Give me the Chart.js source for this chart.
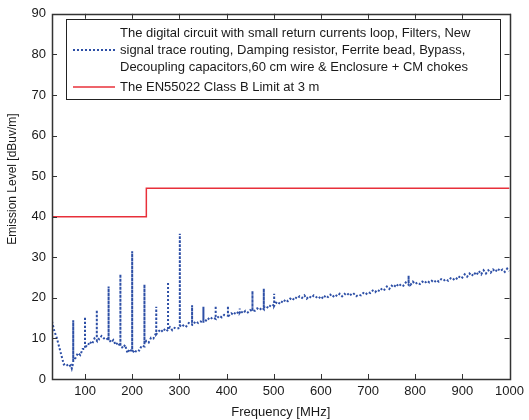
<!DOCTYPE html>
<html>
<head>
<meta charset="utf-8">
<script src="https://cdn.jsdelivr.net/npm/chart.js@4.4.1/dist/chart.umd.min.js"></script>
<style>
  html, body { margin: 0; padding: 0; background: #fff; }
  #wrap { width: 529px; height: 420px; }
</style>
</head>
<body>
<div id="wrap"><canvas id="emi"></canvas></div>
<script>
  // values (MHz, dBuV/m); spikes are three points at one frequency
  const freqMHz = [30, 35, 40, 45, 50, 55, 60, 65, 70, 72,
    75, 75, 75, 80, 85, 90, 95,
    100, 100, 100, 105, 110, 115, 120,
    125, 125, 125, 130, 135, 140, 145,
    150, 150, 150, 155, 160, 165, 170,
    175, 175, 175, 180, 185, 190, 195,
    200, 200, 200, 205, 210, 215, 220,
    226, 226, 226, 230, 235, 240, 245,
    251, 251, 251, 255, 260, 265, 270,
    276, 276, 276, 280, 285, 290, 295,
    301, 301, 301, 305, 310, 315, 320,
    327, 327, 327, 330, 335, 340, 345,
    351, 351, 351, 355, 360, 365, 370,
    377, 377, 377, 380, 385, 390, 395,
    403, 403, 403, 405, 410, 415, 420,
    428, 428, 428, 430, 435, 440, 445, 450,
    455, 455, 455, 460, 465, 470, 475,
    479, 479, 479, 485, 490, 495,
    501, 501, 501, 505, 510, 515, 520, 525, 530, 535, 540, 545,
    550, 555, 560, 565, 570, 575, 580, 585, 590, 595,
    600, 605, 610, 615, 620, 625, 630, 635, 640, 645,
    650, 655, 660, 665, 670, 675, 680, 685, 690, 695,
    700, 705, 710, 715, 720, 725, 730, 735, 740, 745,
    750, 755, 760, 765, 770, 775, 780,
    786, 786, 786, 790, 795,
    800, 805, 810, 815, 820, 825, 830, 835, 840, 845,
    850, 855, 860, 865, 870, 875, 880, 885, 890, 895,
    900, 905, 910, 915, 920, 925, 930, 935, 940, 945,
    950, 955, 960, 965, 970, 975, 980, 985, 990, 995, 1000];
  const emissionLevel = [14.2, 11.8, 10.2, 8.0, 5.8, 3.6, 3.8, 3.0, 3.4, 2.6,
    4.0, 14.5, 4.6, 5.2, 6.4, 5.9, 7.4,
    7.4, 15.3, 8.2, 8.0, 9.2, 8.6, 10.0,
    9.4, 17.0, 10.4, 9.8, 10.6, 10.0, 10.2,
    9.4, 22.8, 10.0, 9.0, 9.6, 8.4, 9.0,
    8.0, 25.8, 8.6, 7.6, 8.4, 6.4, 7.4,
    6.6, 31.5, 7.2, 6.4, 7.2, 7.0, 8.2,
    8.0, 23.3, 8.8, 9.4, 9.0, 10.2, 10.0,
    11.4, 17.8, 11.0, 11.6, 12.2, 11.6, 12.4,
    11.8, 23.9, 12.2, 12.8, 12.0, 12.6, 12.4,
    12.6, 35.8, 13.2, 12.8, 13.4, 13.0, 13.8,
    13.4, 18.2, 14.0, 13.6, 14.2, 13.8, 14.2,
    13.8, 17.8, 14.4, 14.2, 15.0, 14.6, 15.2,
    14.8, 18.0, 15.4, 15.0, 15.6, 15.2, 15.8,
    15.6, 18.0, 16.0, 15.6, 16.2, 15.8, 16.6,
    16.0, 17.4, 16.4, 16.8, 16.2, 16.8, 16.4, 17.0,
    16.6, 21.7, 17.0, 16.8, 17.4, 17.0, 17.6,
    17.2, 22.3, 17.8, 17.4, 18.2, 17.8,
    18.4, 21.0, 18.0, 18.8, 18.4, 19.2, 18.8, 19.6, 19.2, 19.8, 19.4, 20.2,
    19.8, 20.4, 20.0, 20.6, 19.8, 20.4, 20.0, 20.6, 20.2, 19.8,
    20.4, 19.8, 20.6, 20.2, 20.8, 20.2, 20.8, 20.4, 21.0, 20.4,
    21.0, 20.6, 21.2, 20.6, 21.0, 20.4, 20.8, 20.6, 21.2, 20.8,
    21.4, 21.2, 21.8, 21.4, 22.0, 21.6, 22.4, 22.0, 22.8, 22.2,
    23.0, 22.6, 23.4, 22.8, 23.4, 23.0, 23.8,
    23.2, 25.5, 23.8, 23.2, 24.0,
    23.4, 23.8, 23.4, 24.0, 23.6, 24.2, 23.8, 24.2, 23.8, 24.4,
    24.0, 24.6, 24.2, 24.6, 24.2, 24.8, 24.4, 25.0, 24.6, 25.4,
    25.0, 25.8, 25.2, 26.0, 25.4, 26.2, 25.6, 26.6, 25.8, 26.8,
    26.0, 26.8, 26.2, 27.0, 26.4, 27.2, 26.6, 27.0, 26.4, 27.2, 26.6];

  const limitFreqMHz = [30, 230, 230, 1000];
  const limitLevel = [40, 40, 47, 47];

  const xTickValues = [100, 200, 300, 400, 500, 600, 700, 800, 900, 1000];
  const yTickValues = [0, 10, 20, 30, 40, 50, 60, 70, 80, 90];

  const emissionLabelLines = [
    'The digital circuit with small return currents loop, Filters, New',
    'signal trace routing, Damping resistor, Ferrite bead, Bypass,',
    'Decoupling capacitors,60 cm wire & Enclosure + CM chokes'
  ];
  const limitLabelLines = ['The EN55022 Class B Limit at 3 m'];
  const yAxisTitle = 'Emission Level [dBuv/m]';

  const blue = '#2d4fa6';
  const red = '#e8303a';
  const frameColor = '#333333';
  const textColor = '#1a1a1a';
  const fontFamily = '"Liberation Sans", Arial, sans-serif';

  // box with inward ticks on all four sides (matlab style) + y title
  const frameTicks = {
    id: 'frameTicks',
    afterDraw(chart) {
      const ctx = chart.ctx;
      const a = chart.chartArea;
      const xs = chart.scales.x, ys = chart.scales.y;
      const len = 5;
      ctx.save();
      ctx.strokeStyle = frameColor;
      ctx.lineWidth = 1;
      ctx.beginPath();
      xTickValues.forEach(v => {
        const px = Math.round(xs.getPixelForValue(v)) + 0.5;
        ctx.moveTo(px, a.bottom); ctx.lineTo(px, a.bottom - len);
        ctx.moveTo(px, a.top); ctx.lineTo(px, a.top + len);
      });
      yTickValues.forEach(v => {
        const py = Math.round(ys.getPixelForValue(v)) + 0.5;
        ctx.moveTo(a.left, py); ctx.lineTo(a.left + len, py);
        ctx.moveTo(a.right, py); ctx.lineTo(a.right - len, py);
      });
      ctx.stroke();
      ctx.lineWidth = 1.5;
      ctx.strokeRect(Math.round(a.left) + 0.5, Math.round(a.top) + 0.5,
        Math.round(a.right - a.left), Math.round(a.bottom - a.top));

      // y title sits a bit above the axis middle in the original
      ctx.translate(13, 179);
      ctx.rotate(-Math.PI / 2);
      ctx.font = '12px ' + fontFamily;
      ctx.fillStyle = textColor;
      ctx.textAlign = 'center';
      ctx.textBaseline = 'middle';
      ctx.fillText(yAxisTitle, 0, 0);
      ctx.restore();
    }
  };

  // legend box with a wrapped first entry
  const boxLegend = {
    id: 'boxLegend',
    afterDatasetsDraw(chart) {
      const ctx = chart.ctx;
      const left = 66, top = 19, right = 500, bottom = 99;
      ctx.save();
      ctx.fillStyle = '#fff';
      ctx.fillRect(left, top, right - left, bottom - top);
      ctx.strokeStyle = '#222';
      ctx.lineWidth = 1;
      ctx.strokeRect(left + 0.5, top + 0.5, right - left, bottom - top);

      ctx.font = '13px ' + fontFamily;
      ctx.fillStyle = textColor;
      ctx.textBaseline = 'middle';
      ctx.textAlign = 'left';
      const textX = 120;
      const rows = [33, 50, 67];
      emissionLabelLines.forEach((t, i) => ctx.fillText(t, textX, rows[i]));
      ctx.fillText(limitLabelLines[0], textX, 87);

      const ds0 = chart.data.datasets[0], ds1 = chart.data.datasets[1];
      ctx.strokeStyle = ds0.borderColor;
      ctx.lineWidth = 2;
      ctx.setLineDash(ds0.borderDash);
      ctx.beginPath(); ctx.moveTo(73, 50); ctx.lineTo(115, 50); ctx.stroke();
      ctx.setLineDash([]);
      ctx.strokeStyle = ds1.borderColor;
      ctx.lineWidth = ds1.borderWidth;
      ctx.beginPath(); ctx.moveTo(73, 87); ctx.lineTo(115, 87); ctx.stroke();
      ctx.restore();
    }
  };

  new Chart(document.getElementById('emi'), {
    type: 'line',
    data: {
      datasets: [{
        label: emissionLabelLines.join(' '),
        data: freqMHz.map((f, i) => ({ x: f, y: emissionLevel[i] })),
        borderColor: blue,
        borderWidth: 2,
        borderDash: [2, 2],
        pointRadius: 0,
        tension: 0,
        fill: false
      }, {
        label: limitLabelLines[0],
        data: limitFreqMHz.map((f, i) => ({ x: f, y: limitLevel[i] })),
        borderColor: red,
        borderWidth: 1.5,
        pointRadius: 0,
        tension: 0,
        fill: false
      }]
    },
    options: {
      responsive: true,
      maintainAspectRatio: false,
      animation: false,
      layout: { padding: { top: 13, right: 19, left: 26, bottom: 0 } },
      plugins: { legend: { display: false }, tooltip: { enabled: false } },
      scales: {
        x: {
          type: 'linear',
          min: 30, max: 1000,
          afterBuildTicks: s => { s.ticks = xTickValues.map(v => ({ value: v })); },
          afterFit: s => { s.height = 41; },
          grid: { display: false, drawTicks: false },
          border: { display: false },
          ticks: { color: textColor, font: { family: fontFamily, size: 13 }, padding: 5,
            maxRotation: 0, callback: v => String(v) },
          title: { display: true, text: 'Frequency [MHz]', color: textColor,
            font: { family: fontFamily, size: 13 }, padding: { top: 0, bottom: 0 } }
        },
        y: {
          min: 0, max: 90,
          afterBuildTicks: s => { s.ticks = yTickValues.map(v => ({ value: v })); },
          afterFit: s => { s.width = 26; },
          grid: { display: false, drawTicks: false },
          border: { display: false },
          ticks: { color: textColor, font: { family: fontFamily, size: 13 }, padding: 6,
            callback: v => String(v) }
        }
      }
    },
    plugins: [frameTicks, boxLegend]
  });
</script>
</body>
</html>
